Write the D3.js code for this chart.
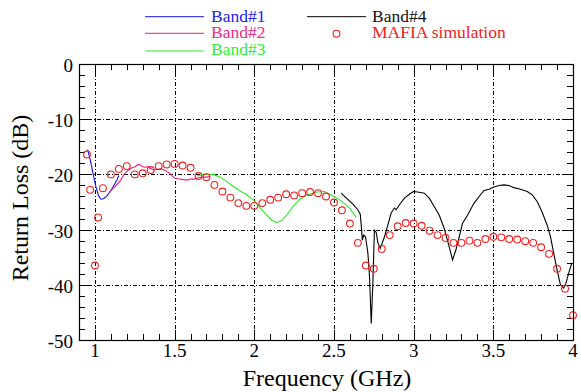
<!DOCTYPE html>
<html>
<head>
<meta charset="utf-8">
<script src="https://cdn.jsdelivr.net/npm/d3@7"></script>
<style>
  body { margin: 0; background: #fff; }
  svg { display: block; }
</style>
</head>
<body>
<svg id="chart" width="581" height="392"></svg>
<script>
// measured curves, [GHz, dB]
const band1 = [
  [0.954, -15.5], [0.971, -17.4], [0.988, -19.8], [1.006, -22.2], [1.023, -23.9],
  [1.038, -24.5], [1.054, -24.4], [1.075, -23.9], [1.096, -23.1], [1.117, -22.1],
  [1.138, -21.0], [1.15, -20.2]
];
const band2 = [
  [1.09, -23.2], [1.117, -22.5], [1.148, -21.5], [1.165, -20.9], [1.179, -20.1],
  [1.195, -19.6], [1.211, -19.2], [1.232, -18.8], [1.253, -18.6], [1.27, -18.2],
  [1.284, -18.3], [1.3, -18.6], [1.315, -18.7], [1.33, -18.6], [1.346, -18.9],
  [1.367, -19.2], [1.388, -19.1], [1.41, -19.0], [1.429, -19.1], [1.45, -19.5],
  [1.471, -19.8], [1.487, -20.3], [1.503, -20.7], [1.52, -20.8], [1.544, -20.9],
  [1.565, -21.0], [1.586, -21.0], [1.6, -20.8], [1.617, -20.9], [1.64, -20.7],
  [1.671, -20.5], [1.7, -20.5], [1.723, -20.4]
];
const band3 = [
  [1.64, -20.3], [1.681, -20.0], [1.744, -20.0], [1.786, -20.5], [1.828, -21.3],
  [1.869, -22.2], [1.911, -23.0], [1.953, -23.7], [1.994, -24.6], [2.036, -26.0],
  [2.078, -27.4], [2.109, -28.3], [2.14, -28.7], [2.171, -28.4], [2.203, -27.4],
  [2.244, -25.8], [2.286, -24.5], [2.328, -23.8], [2.39, -23.2], [2.442, -23.1],
  [2.494, -23.9], [2.546, -24.8], [2.598, -26.1], [2.64, -27.8]
];
const band4 = [
  [2.545, -23.4], [2.578, -24.3], [2.619, -25.4], [2.65, -26.4], [2.665, -27.2],
  [2.671, -29.2], [2.678, -31.9], [2.686, -31.0], [2.698, -31.3], [2.713, -34.3],
  [2.723, -38.5], [2.734, -47.0], [2.744, -39.7], [2.754, -30.1], [2.765, -30.5],
  [2.776, -32.4], [2.79, -33.4], [2.817, -31.3], [2.838, -29.2], [2.859, -27.0],
  [2.879, -26.1], [2.89, -26.4], [2.911, -25.5], [2.942, -24.3], [2.973, -23.6],
  [2.998, -23.1], [3.025, -23.2], [3.067, -23.4], [3.098, -24.3], [3.129, -25.8],
  [3.161, -27.4], [3.192, -29.8], [3.223, -33.1], [3.244, -35.5], [3.265, -33.7],
  [3.286, -31.3], [3.306, -28.9], [3.338, -27.4], [3.379, -25.2], [3.411, -24.0],
  [3.442, -22.9], [3.473, -22.7], [3.504, -22.3], [3.536, -22.0], [3.567, -21.9],
  [3.598, -22.0], [3.629, -22.4], [3.671, -22.7], [3.713, -23.1], [3.744, -23.7],
  [3.775, -24.9], [3.806, -26.8], [3.838, -29.2], [3.859, -31.3], [3.879, -34.3],
  [3.9, -37.3], [3.921, -40.0], [3.942, -40.6], [3.956, -39.7], [3.973, -37.9],
  [3.992, -36.1]
];
// simulation points
const mafia = [
  [0.95, -16.4], [0.97, -22.8], [1.0, -36.5], [1.02, -27.8], [1.05, -22.5],
  [1.1, -20.0], [1.15, -19.0], [1.2, -18.5], [1.25, -20.0], [1.3, -19.8],
  [1.35, -19.2], [1.4, -18.5], [1.45, -18.2], [1.5, -18.1], [1.55, -18.4],
  [1.6, -18.8], [1.65, -20.3], [1.7, -20.5], [1.75, -21.9], [1.8, -23.1],
  [1.85, -24.2], [1.9, -25.2], [1.95, -25.7], [2.0, -25.7], [2.05, -25.2],
  [2.1, -24.6], [2.15, -24.2], [2.2, -23.6], [2.25, -23.8], [2.3, -23.4],
  [2.35, -23.2], [2.4, -23.4], [2.45, -24.0], [2.5, -25.1], [2.55, -26.5],
  [2.6, -28.9], [2.65, -32.4], [2.7, -36.5], [2.75, -37.1], [2.8, -33.5],
  [2.85, -31.0], [2.9, -29.4], [2.95, -28.8], [3.0, -28.9], [3.05, -29.3],
  [3.1, -30.2], [3.15, -31.0], [3.2, -31.5], [3.25, -32.4], [3.3, -32.4],
  [3.35, -32.0], [3.4, -32.4], [3.45, -31.7], [3.5, -31.3], [3.55, -31.4],
  [3.6, -31.7], [3.65, -31.8], [3.7, -32.1], [3.75, -32.4], [3.8, -33.2],
  [3.85, -34.4], [3.9, -37.1], [3.95, -40.7], [4.0, -45.5]
];

const xTicks = [1, 1.5, 2, 2.5, 3, 3.5, 4];
const yTicks = [0, -10, -20, -30, -40, -50];
const xGrid = [1, 1.5, 2, 2.5, 3, 3.5];
const yGrid = [-10, -20, -30, -40];

const series = [
  { name: 'Band#1', data: band1, color: '#1414e6', text: '#2222ee' },
  { name: 'Band#2', data: band2, color: '#ee1a8a', text: '#ee2a8a' },
  { name: 'Band#3', data: band3, color: '#22ee22', text: '#33ee33' },
  { name: 'Band#4', data: band4, color: '#000000', text: '#111111' }
];
const red = '#ee2222';
const serif = "'Times New Roman', Times, 'Liberation Serif', 'DejaVu Serif', serif";

const svg = d3.select('#chart');
const m = { left: 79, right: 573, top: 64, bottom: 340 };

const x = d3.scaleLinear().domain([0.9, 4]).range([m.left, m.right]);
const y = d3.scaleLinear().domain([-50, 0]).range([m.bottom, m.top]);

svg.append('defs').append('clipPath').attr('id', 'plot')
  .append('rect')
  .attr('x', m.left).attr('y', m.top)
  .attr('width', m.right - m.left).attr('height', m.bottom - m.top);

// grid
const grid = svg.append('g')
  .attr('stroke', '#000')
  .attr('stroke-width', 1)
  .attr('stroke-dasharray', '4,2,1,2');
grid.selectAll('.gx').data(xGrid).enter().append('line')
  .attr('x1', d => Math.round(x(d)) + 0.5).attr('x2', d => Math.round(x(d)) + 0.5)
  .attr('y1', m.top).attr('y2', m.bottom);
grid.selectAll('.gy').data(yGrid).enter().append('line')
  .attr('y1', d => Math.round(y(d)) + 0.5).attr('y2', d => Math.round(y(d)) + 0.5)
  .attr('x1', m.left).attr('x2', m.right);

// ticks, inward on all four sides
const minorX = d3.range(9, 41).map(d => d / 10);
const minorY = d3.range(-50, 1, 2);
const ticks = svg.append('g').attr('stroke', '#000').attr('stroke-width', 1);
minorX.forEach(d => {
  const major = Math.abs(d * 2 - Math.round(d * 2)) < 1e-6;
  const len = major ? 10 : 6;
  const px = Math.round(x(d)) + 0.5;
  ticks.append('line').attr('x1', px).attr('x2', px).attr('y1', m.bottom).attr('y2', m.bottom - len);
  ticks.append('line').attr('x1', px).attr('x2', px).attr('y1', m.top).attr('y2', m.top + len);
});
minorY.forEach(d => {
  const len = d % 10 === 0 ? 10 : 6;
  const py = Math.round(y(d)) + 0.5;
  ticks.append('line').attr('y1', py).attr('y2', py).attr('x1', m.left).attr('x2', m.left + len);
  ticks.append('line').attr('y1', py).attr('y2', py).attr('x1', m.right).attr('x2', m.right - len);
});

// curves
const line = d3.line().x(d => x(d[0])).y(d => y(d[1]));
const plot = svg.append('g').attr('clip-path', 'url(#plot)');
series.forEach(s => {
  plot.append('path')
    .datum(s.data)
    .attr('d', line)
    .attr('fill', 'none')
    .attr('stroke', s.color)
    .attr('stroke-width', 1.1);
});

svg.append('g').selectAll('circle')
  .data(mafia)
  .enter()
  .append('circle')
  .attr('cx', d => x(d[0]))
  .attr('cy', d => y(d[1]))
  .attr('r', 3.4)
  .attr('fill', 'none')
  .attr('stroke', red)
  .attr('stroke-width', 1.1);

// frame
svg.append('rect')
  .attr('x', m.left + 0.5).attr('y', m.top + 0.5)
  .attr('width', m.right - m.left).attr('height', m.bottom - m.top)
  .attr('fill', 'none').attr('stroke', '#000').attr('stroke-width', 1.2);

// tick labels
svg.append('g').selectAll('text')
  .data(xTicks)
  .enter()
  .append('text')
  .attr('x', d => x(d))
  .attr('y', 357)
  .attr('text-anchor', 'middle')
  .style('font-family', serif)
  .style('font-size', '19px')
  .text(d => d3.format('')(d));

svg.append('g').selectAll('text')
  .data(yTicks)
  .enter()
  .append('text')
  .attr('x', 73)
  .attr('y', d => y(d) + 8)
  .attr('text-anchor', 'end')
  .style('font-family', serif)
  .style('font-size', '19px')
  .text(d => d);

// axis titles
svg.append('text')
  .attr('x', 327)
  .attr('y', 386)
  .attr('text-anchor', 'middle')
  .style('font-family', serif)
  .style('font-size', '24px')
  .text('Frequency (GHz)');

svg.append('text')
  .attr('transform', 'translate(28, 198) rotate(-90)')
  .attr('text-anchor', 'middle')
  .style('font-family', serif)
  .style('font-size', '24px')
  .text('Return Loss (dB)');

// legend
const legendPos = [
  { lx: 145, ly: 16.7, tx: 211, ty: 22 },
  { lx: 145, ly: 33.3, tx: 211, ty: 38.3 },
  { lx: 145, ly: 51, tx: 211, ty: 55 },
  { lx: 307, ly: 16.7, tx: 372, ty: 22 }
];
const legend = svg.append('g')
  .style('font-family', serif)
  .style('font-size', '17.5px');
series.forEach((s, i) => {
  const p = legendPos[i];
  legend.append('line')
    .attr('x1', p.lx).attr('x2', p.lx + 59)
    .attr('y1', p.ly).attr('y2', p.ly)
    .attr('stroke', s.color).attr('stroke-width', 1);
  legend.append('text')
    .attr('x', p.tx).attr('y', p.ty)
    .attr('fill', s.text)
    .text(s.name);
});
legend.append('circle')
  .attr('cx', 336.5).attr('cy', 33.7).attr('r', 3.4)
  .attr('fill', 'none').attr('stroke', red).attr('stroke-width', 1.1);
legend.append('text')
  .attr('x', 372).attr('y', 38.3)
  .attr('fill', red)
  .text('MAFIA simulation');
</script>
</body>
</html>
